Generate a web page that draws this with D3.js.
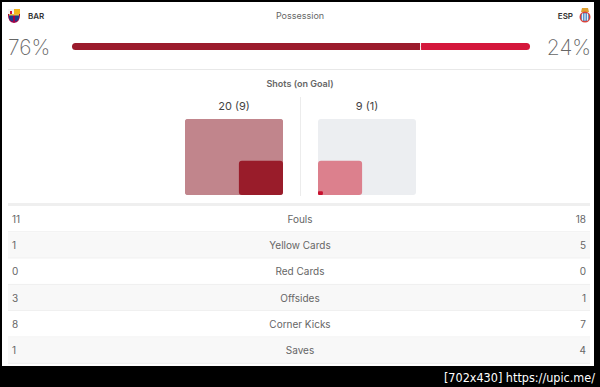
<!DOCTYPE html>
<html lang="en">
<head>
    <meta charset="UTF-8">
    <title>Match Stats</title>
    <script src="https://d3js.org/d3.v7.min.js"></script>
    <style>
        body { margin: 0; background: #000; }
        text { font-family: Inter, "Noto Sans", sans-serif; }
    </style>
</head>
<body>
    <div id="chart"></div>
    <script>
        // Match data
        const teams = ["BAR", "ESP"];
        const possession = [76, 24];
        const shots = [20, 9];
        const shotsOnGoal = [9, 1];
        const statLabels = ["Fouls", "Yellow Cards", "Red Cards", "Offsides", "Corner Kicks", "Saves"];
        const homeStats = [11, 1, 0, 3, 8, 1];
        const awayStats = [18, 5, 0, 1, 7, 4];

        const width = 600;
        const height = 387;

        const svg = d3.select("#chart")
            .append("svg")
            .attr("width", width)
            .attr("height", height);

        // black frame + white card
        svg.append("rect").attr("width", width).attr("height", height).attr("fill", "#000");
        svg.append("rect").attr("x", 2).attr("y", 2).attr("width", 592).attr("height", 364).attr("fill", "#fff");

        // team headers
        function barcaCrest(g) {
            g.append("path").attr("d", "M0,0 H12 V6 Q12,13 6,14 Q0,13 0,6 Z").attr("fill", "#a50044");
            g.append("rect").attr("x", 0).attr("y", 0).attr("width", 6).attr("height", 5).attr("fill", "#f4f4f4");
            g.append("rect").attr("x", 6).attr("y", 0).attr("width", 6).attr("height", 5).attr("fill", "#f2b51c");
            g.append("rect").attr("x", 2).attr("y", 2).attr("width", 2).attr("height", 3).attr("fill", "#d0103a");
            g.append("path").attr("d", "M1,6 H11 V8 Q11,12 6,13 Q1,12 1,8 Z").attr("fill", "#1c3c8c");
            g.append("rect").attr("x", 5).attr("y", 6).attr("width", 2).attr("height", 7).attr("fill", "#a50044");
            g.append("rect").attr("x", 1).attr("y", 5).attr("width", 10).attr("height", 1.5).attr("fill", "#e8c040");
        }
        function espCrest(g) {
            g.append("path").attr("d", "M3,0 H9 L10,4 H2 Z").attr("fill", "#e0a030");
            g.append("circle").attr("cx", 6).attr("cy", 9).attr("r", 5.5).attr("fill", "#d8403a");
            g.append("circle").attr("cx", 6).attr("cy", 9).attr("r", 4).attr("fill", "#4a8ac8");
            [3.5, 6, 8.5].forEach(x => g.append("rect").attr("x", x - 0.6).attr("y", 5.5).attr("width", 1.2).attr("height", 7).attr("fill", "#e8eef6"));
        }
        barcaCrest(svg.append("g").attr("transform", "translate(8,9)"));
        espCrest(svg.append("g").attr("transform", "translate(579,8)"));

        svg.append("text").attr("x", 28).attr("y", 19).attr("font-size", 8).attr("font-weight", 600)
            .attr("fill", "#333").text(teams[0]);
        svg.append("text").attr("x", 573).attr("y", 19).attr("font-size", 8).attr("font-weight", 600)
            .attr("text-anchor", "end").attr("fill", "#333").text(teams[1]);
        svg.append("text").attr("x", 300).attr("y", 19).attr("font-size", 9)
            .attr("text-anchor", "middle").attr("fill", "#666").text("Possession");

        // possession numbers
        svg.append("text").attr("x", 8).attr("y", 55).attr("font-size", 21).attr("font-weight", 200)
            .attr("fill", "#666").text(possession[0] + "%");
        svg.append("text").attr("x", 591).attr("y", 55).attr("font-size", 21).attr("font-weight", 200)
            .attr("text-anchor", "end").attr("fill", "#666").text(possession[1] + "%");

        // possession bar
        const px = d3.scaleLinear().domain([0, 100]).range([72, 530]);
        const barY = 43, barH = 7;
        const split = px(possession[0]);
        svg.append("rect").attr("x", px(0)).attr("y", barY).attr("width", split - px(0))
            .attr("height", barH).attr("rx", 3.5).attr("fill", "#9b1b2c");
        svg.append("rect").attr("x", split - 4).attr("y", barY).attr("width", 4)
            .attr("height", barH).attr("fill", "#9b1b2c");
        svg.append("rect").attr("x", split + 1).attr("y", barY).attr("width", px(100) - split - 1)
            .attr("height", barH).attr("rx", 3.5).attr("fill", "#d4173b");
        svg.append("rect").attr("x", split + 1).attr("y", barY).attr("width", 4)
            .attr("height", barH).attr("fill", "#d4173b");

        svg.append("line").attr("x1", 8).attr("x2", 590).attr("y1", 69.5).attr("y2", 69.5)
            .attr("stroke", "#e8e8e8");

        // shots section
        svg.append("text").attr("x", 300).attr("y", 87).attr("font-size", 9).attr("font-weight", 600)
            .attr("text-anchor", "middle").attr("fill", "#666").text("Shots (on Goal)");
        svg.append("line").attr("x1", 300.5).attr("x2", 300.5).attr("y1", 97).attr("y2", 196)
            .attr("stroke", "#ececec");

        const boxW = 98, boxH = 76, boxTop = 119;
        const maxShots = d3.max(shots);
        const sw = d3.scaleLinear().domain([0, maxShots]).range([0, boxW]);
        const sh = d3.scaleLinear().domain([0, maxShots]).range([0, boxH]);
        const boxX = [185, 318];
        const bgColor = ["#c1858c", "#eceef1"];
        const shotColor = ["#c1858c", "#dc808d"];
        const goalColor = ["#991c2a", "#c8102e"];
        const bottom = boxTop + boxH;

        teams.forEach((t, i) => {
            const g = svg.append("g");
            g.append("text").attr("x", boxX[i] + boxW / 2).attr("y", 110).attr("font-size", 11)
                .attr("text-anchor", "middle").attr("fill", "#444")
                .text(shots[i] + " (" + shotsOnGoal[i] + ")");
            g.append("rect").attr("x", boxX[i]).attr("y", boxTop).attr("width", boxW).attr("height", boxH)
                .attr("rx", 3).attr("fill", bgColor[i]);
            // shots box anchored to corner (left box anchored bottom-right, right box bottom-left)
            const w1 = sw(shots[i]), h1 = sh(shots[i]);
            const x1 = i === 0 ? boxX[i] + boxW - w1 : boxX[i];
            g.append("rect").attr("x", x1).attr("y", bottom - h1).attr("width", w1).attr("height", h1)
                .attr("rx", 3).attr("fill", shotColor[i]);
            const w2 = sw(shotsOnGoal[i]), h2 = sh(shotsOnGoal[i]);
            const x2 = i === 0 ? boxX[i] + boxW - w2 : boxX[i];
            g.append("rect").attr("x", x2).attr("y", bottom - h2).attr("width", w2).attr("height", h2)
                .attr("rx", i === 0 ? 3 : 1).attr("fill", goalColor[i]);
        });

        // stats table
        const tableTop = 205;
        const rowH = 26.3;
        svg.append("rect").attr("x", 8).attr("y", tableTop - 2).attr("width", 582).attr("height", 3)
            .attr("fill", "#efefef");

        const ry = d3.scaleBand().domain(statLabels).range([tableTop + 1, tableTop + 1 + rowH * statLabels.length]);

        const rows = svg.append("g").selectAll("g")
            .data(statLabels)
            .enter().append("g")
            .attr("transform", d => "translate(0," + ry(d) + ")");

        rows.append("rect").attr("x", 8).attr("width", 582).attr("height", ry.bandwidth())
            .attr("fill", (d, i) => i % 2 ? "#f8f8f8" : "#fff");
        rows.append("line").attr("x1", 8).attr("x2", 590)
            .attr("y1", ry.bandwidth() - 0.5).attr("y2", ry.bandwidth() - 0.5)
            .attr("stroke", "#eeeeee");
        rows.append("text").attr("x", 300).attr("y", ry.bandwidth() / 2 + 3.5)
            .attr("text-anchor", "middle").attr("font-size", 10).attr("fill", "#666").text(d => d);
        rows.append("text").attr("x", 12).attr("y", ry.bandwidth() / 2 + 3.5)
            .attr("font-size", 10).attr("fill", "#666").text((d, i) => homeStats[i]);
        rows.append("text").attr("x", 586).attr("y", ry.bandwidth() / 2 + 3.5)
            .attr("text-anchor", "end").attr("font-size", 10).attr("fill", "#666").text((d, i) => awayStats[i]);

        // watermark
        svg.append("text").attr("x", 595).attr("y", 382).attr("text-anchor", "end")
            .attr("font-size", 12.5).attr("fill", "#fff")
            .style("font-family", "'DejaVu Sans Condensed', 'DejaVu Sans', sans-serif")
            .text("[702x430] https://upic.me/");
    </script>
</body>
</html>
